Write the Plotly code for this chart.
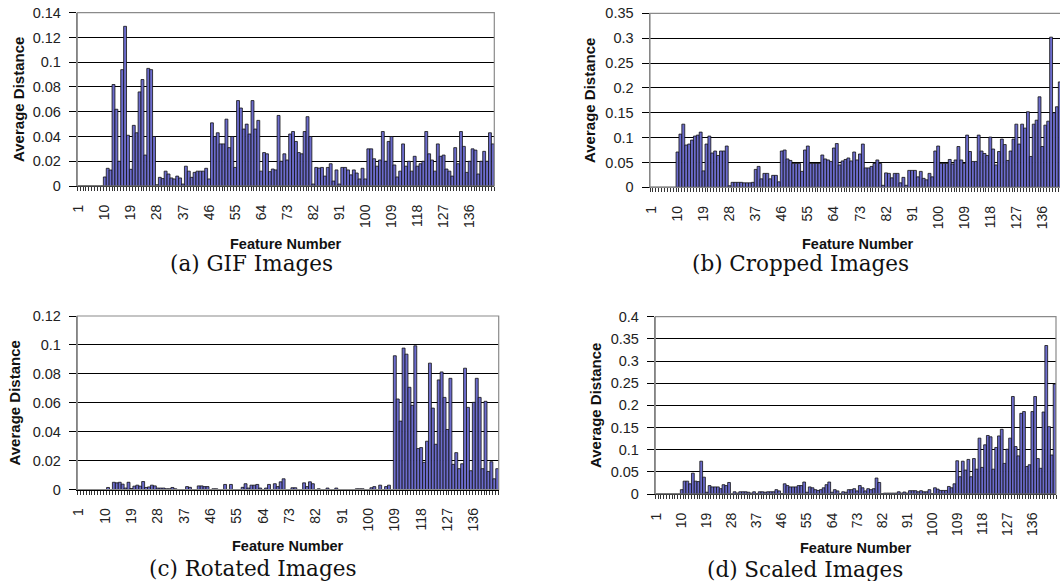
import plotly.graph_objects as go

FEATURES = list(range(1, 145))
TICK_LABELS = [1, 10, 19, 28, 37, 46, 55, 64, 73, 82, 91, 100, 109, 118, 127, 136]

GIF = ([0, 0, 0, 0, 0, 0, 0, 0, 0] +
       [0.0073, 0.0143, 0.0129, 0.082, 0.062, 0.020, 0.094, 0.129, 0.041, 0.0135,
        0.049, 0.043, 0.076, 0.086, 0.025, 0.095, 0.094, 0.040] +
       [0.001, 0.007, 0.006, 0.012, 0.0097, 0.0065, 0.0057, 0.008, 0.0065, 0.0016,
        0.016, 0.012, 0.007, 0.011, 0.012, 0.012, 0.012, 0.0143, 0.0057] +
       [0.051, 0.040, 0.043, 0.034, 0.034, 0.054, 0.031, 0.040, 0.015, 0.069,
        0.063, 0.046, 0.050, 0.042, 0.069, 0.046, 0.053, 0.012] +
       [0.027, 0.026, 0.0116, 0.0137, 0.013, 0.057, 0.020, 0.026, 0.021, 0.042,
        0.044, 0.036, 0.027, 0.026, 0.044, 0.056, 0.040, 0.0016, 0.015, 0.0145,
        0.015, 0.008, 0.015, 0.018, 0.004, 0.013, 0.0016, 0.015, 0.015, 0.013,
        0.009, 0.013, 0.0105, 0.0057, 0.0143, 0.0057] +
       [0.030, 0.030, 0.022, 0.016, 0.021, 0.044, 0.020, 0.036, 0.040, 0.017,
        0.0073, 0.012, 0.034, 0.016, 0.020, 0.012, 0.024, 0.016, 0.018, 0.020,
        0.044, 0.026, 0.021, 0.012, 0.034, 0.024, 0.025, 0.0137, 0.012, 0.008,
        0.031, 0.018, 0.044, 0.032, 0.011, 0.020, 0.030, 0.029, 0.0097, 0.020,
        0.028, 0.020, 0.043, 0.034])

CROPPED = ([0, 0, 0, 0, 0, 0, 0, 0, 0] +
           [0.071, 0.107, 0.127, 0.085, 0.087, 0.095, 0.103, 0.105, 0.111, 0.033,
            0.087, 0.103, 0.069, 0.073, 0.064, 0.073, 0.073, 0.083] +
           [0.003, 0.010, 0.010, 0.010, 0.010, 0.009, 0.009, 0.009, 0.010, 0.036,
            0.042, 0.017, 0.028, 0.028, 0.017, 0.024, 0.024, 0.011] +
           [0.073, 0.075, 0.057, 0.054, 0.048, 0.048, 0.048, 0.032, 0.075, 0.083,
            0.048, 0.048, 0.048, 0.048] +
           [0.065, 0.057, 0.055, 0.052, 0.079, 0.088, 0.045, 0.053, 0.056, 0.059,
            0.053, 0.071, 0.055, 0.067, 0.087, 0.039, 0.039, 0.042, 0.048, 0.055,
            0.048] +
           [0.004, 0.029, 0.028, 0.019, 0.028, 0.028, 0.009, 0.020, 0.004, 0.034,
            0.034, 0.034, 0.021, 0.032, 0.018, 0.015, 0.028, 0.021] +
           [0.073, 0.083, 0.048, 0.048, 0.048, 0.056, 0.047, 0.055, 0.082, 0.055,
            0.048, 0.105, 0.072, 0.052, 0.052, 0.105, 0.073, 0.068, 0.064, 0.101,
            0.077, 0.045] +
           [0.072, 0.097, 0.086, 0.054, 0.073, 0.097, 0.127, 0.087, 0.127, 0.119,
            0.152, 0.062, 0.127, 0.135, 0.182, 0.082, 0.125, 0.133, 0.302, 0.150,
            0.162, 0.212, 0.16, 0.2])

ROTATED = ([0, 0, 0, 0, 0, 0, 0, 0, 0, 0] +
           [0.0014, 0, 0.005, 0.0046, 0.005, 0.0037, 0.001, 0.005, 0.0007, 0.0023,
            0.003, 0.0023, 0.0055, 0.0014, 0.0018, 0.003, 0.0025, 0.001, 0.001, 0.001,
            0.0005, 0.0005, 0.0014, 0.0005] +
           [0, 0, 0, 0.002, 0.0015, 0, 0, 0.0025, 0.0025, 0.002,
            0.002, 0, 0.0005, 0.0005, 0, 0, 0.0035, 0, 0.0035, 0,
            0, 0, 0.0015, 0.004, 0.001] +
           [0.003, 0.003, 0.0035, 0.001, 0, 0.001, 0.0035, 0, 0.004, 0.002,
            0.0053, 0.0074, 0, 0, 0.0012, 0.0012, 0, 0, 0.0046, 0.002,
            0.0053, 0.004, 0, 0.0005, 0, 0, 0.001, 0, 0, 0.001,
            0, 0, 0, 0, 0, 0, 0.0005, 0.0005, 0.0005, 0,
            0, 0.0012, 0.002, 0, 0.003, 0, 0.002, 0.003, 0] +
           [0.0925, 0.0626, 0.0473, 0.0978, 0.0936, 0.0707, 0.0582, 0.0994, 0.0283, 0.029,
            0.0188, 0.0334, 0.0874, 0.0563, 0.0313, 0.0758, 0.0813, 0.0637, 0.0415, 0.0769,
            0.0174, 0.0255, 0.0144, 0.0178, 0.0839, 0.0568, 0.013, 0.0603, 0.0769, 0.0637,
            0.0144, 0.061, 0.0125, 0.0192, 0.0074, 0.0144])

SCALED = ([0, 0, 0, 0, 0, 0, 0, 0, 0] +
          [0.0098, 0.029, 0.029, 0.023, 0.047, 0.029, 0.028, 0.074, 0.038, 0.004,
           0.019, 0.016, 0.016, 0.016, 0.012, 0.021, 0.019, 0.026] +
          [0, 0.005, 0.002, 0.005, 0.005, 0.005, 0.004, 0.002, 0.005, 0.001,
           0.005, 0.005, 0.004, 0.005, 0.005, 0.005, 0.0098, 0.007, 0.001] +
          [0.023, 0.019, 0.016, 0.016, 0.016, 0.019, 0.019, 0.027, 0.004, 0.016,
           0.014, 0.0098, 0.008, 0.0098, 0.014, 0.021, 0.027, 0.004, 0.0098, 0.007,
           0.001, 0.005, 0.004, 0.0098] +
          [0.0098, 0.012, 0.007, 0.019, 0.014, 0.007, 0.012, 0.0098, 0.012, 0.036,
           0.026, 0.001, 0.002, 0.002, 0.002, 0.002, 0.002, 0.005, 0.002, 0.0045,
           0.002, 0.0075, 0.0075, 0.0075, 0.005, 0.0075, 0.005, 0.005, 0.0098, 0.001] +
          [0.014, 0.011, 0.008, 0.008, 0.008, 0.017, 0.014, 0.023] +
          [0.075, 0.039, 0.074, 0.054, 0.078, 0.039, 0.080, 0.056, 0.126, 0.06,
           0.111, 0.132, 0.129, 0.056, 0.105, 0.131, 0.146, 0.069, 0.101, 0.126,
           0.22, 0.107, 0.086, 0.182, 0.186, 0.062, 0.066, 0.186, 0.22, 0.080,
           0.058, 0.185, 0.335, 0.152, 0.088, 0.248])

YTICKS_A = [0, 0.02, 0.04, 0.06, 0.08, 0.1, 0.12, 0.14]
YTICKS_B = [0, 0.05, 0.1, 0.15, 0.2, 0.25, 0.3, 0.35]
YTICKS_C = [0, 0.02, 0.04, 0.06, 0.08, 0.1, 0.12]
YTICKS_D = [0, 0.05, 0.1, 0.15, 0.2, 0.25, 0.3, 0.35, 0.4]

CAPTIONS = ["(a) GIF Images", "(b) Cropped Images", "(c) Rotated Images", "(d) Scaled Images"]

W, H = 1060, 581
BAR_FILL = "#6c6ccc"
BAR_LINE = "#111111"
SANS = "Arial, Liberation Sans, sans-serif"

# pixel layout of each panel: (left, right), (top, bottom) and x range end
panels = [
    dict(data=GIF, yt=YTICKS_A, px=(77.3, 494.3), py=(12.7, 186.0), xr=144.5),
    dict(data=CROPPED, yt=YTICKS_B, px=(650.0, 1060.0), py=(13.3, 187.3), xr=0.5 + 410 / 2.896),
    dict(data=ROTATED, yt=YTICKS_C, px=(77.3, 498.7), py=(316.0, 489.5), xr=144.5),
    dict(data=SCALED, yt=YTICKS_D, px=(655.3, 1056.0), py=(316.7, 494.0), xr=144.5),
]

fig = go.Figure()
layout = dict(
    template="none",
    width=W, height=H, autosize=False, margin=dict(l=0, r=0, t=0, b=0, pad=0),
    paper_bgcolor="white", plot_bgcolor="white",
    showlegend=False, bargap=0,
    font=dict(family=SANS, color="#222"),
)
shapes = []
annotations = []

for i, p in enumerate(panels):
    k = "" if i == 0 else str(i + 1)
    xa, ya = "x" + k, "y" + k
    fig.add_trace(go.Bar(
        x=FEATURES, y=p["data"], xaxis=xa, yaxis=ya,
        marker=dict(color=BAR_FILL, line=dict(color=BAR_LINE, width=0.8)),
        width=1.0,
    ))
    l, r = p["px"]
    t, b = p["py"]
    layout["xaxis" + k] = dict(
        domain=[l / W, min(r / W, 1.0)], anchor=ya, automargin=False,
        range=[0.5, p["xr"]], tickmode="array",
        tickvals=TICK_LABELS, ticktext=[str(v) for v in TICK_LABELS],
        tickangle=-90, ticks="", ticklabelstandoff=12,
        tickfont=dict(size=14, color="#222", family=SANS),
        showline=True, linecolor="black", linewidth=1,
        showgrid=False, zeroline=False,
        minor=dict(ticks="outside", ticklen=4, tick0=0.5, dtick=1,
                   tickcolor="#333", tickwidth=1, showgrid=False),
    )
    yt = p["yt"]
    layout["yaxis" + k] = dict(
        domain=[1 - b / H, 1 - t / H], anchor=xa, automargin=False,
        range=[0, yt[-1]], tickmode="array", tickvals=yt,
        ticktext=[("%g" % v) for v in yt],
        ticks="outside", ticklen=7, tickcolor="black", tickwidth=1,
        ticklabelstandoff=5,
        tickfont=dict(size=14.5, color="#222", family=SANS),
        showgrid=True, gridcolor="black", gridwidth=1,
        showline=True, linecolor="#808080", linewidth=1.5,
        zeroline=False,
    )
    shapes.append(dict(type="rect", xref=xa + " domain", yref=ya + " domain",
                       x0=0, x1=1.0 if i != 1 else 1.2, y0=0, y1=1,
                       line=dict(color="#8a8a8a", width=1.2), layer="above"))

# text positions in pixels
ytitles = [(18, 100), (589, 101), (13.5, 403), (595, 406)]
xtitles = [(286, 244), (858, 244), (288, 546), (856, 548)]
caps = [(251.5, 263), (800, 263), (252, 568), (805, 569)]

for (x, y) in ytitles:
    annotations.append(dict(x=x / W, y=1 - y / H, xref="paper", yref="paper",
                            text="<b>Average Distance</b>", textangle=-90, showarrow=False,
                            xanchor="center", yanchor="middle",
                            font=dict(size=15, family=SANS, color="#111")))
for (x, y) in xtitles:
    annotations.append(dict(x=x / W, y=1 - y / H, xref="paper", yref="paper",
                            text="<b>Feature Number</b>", showarrow=False,
                            xanchor="center", yanchor="middle",
                            font=dict(size=14.5, family=SANS, color="#111")))
for (x, y), c in zip(caps, CAPTIONS):
    annotations.append(dict(x=x / W, y=1 - y / H, xref="paper", yref="paper",
                            text=c, showarrow=False, xanchor="center", yanchor="middle",
                            font=dict(size=21.5, family="DejaVu Serif, serif", color="#111")))

layout["shapes"] = shapes
layout["annotations"] = annotations
fig.update_layout(**layout)
fig.write_html("out.html",
               config={"displayModeBar": False, "staticPlot": True},
               post_script="document.body.style.margin='0px';document.body.style.padding='0px';")
